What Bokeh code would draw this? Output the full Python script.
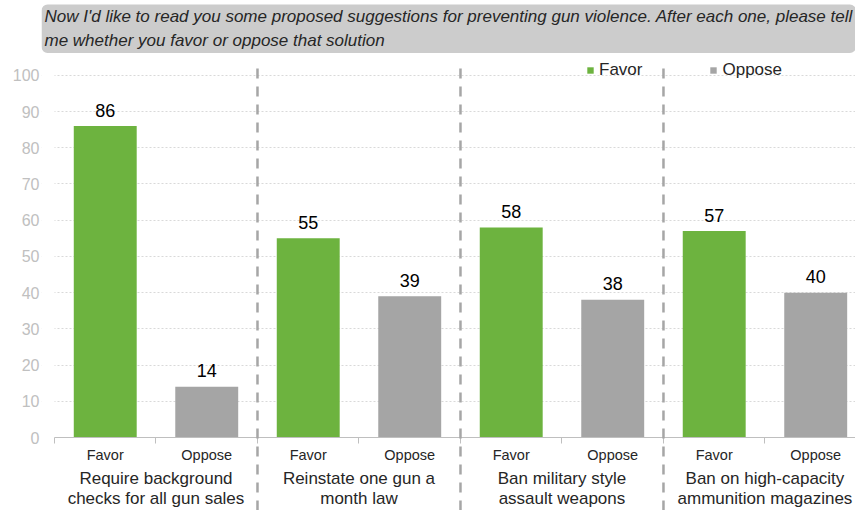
from bokeh.plotting import figure
from bokeh.models import Range1d, FixedTicker, LinearAxis, Label, Legend, LegendItem, ColumnDataSource, BoxAnnotation
from bokeh.embed import file_html
from bokeh.resources import INLINE
from bokeh.core.properties import value

# ---- data ----
groups = [
    "Require background\nchecks for all gun sales",
    "Reinstate one gun a\nmonth law",
    "Ban military style\nassault weapons",
    "Ban on high-capacity\nammunition magazines",
]
responses = ["Favor", "Oppose"]
favor = [86, 55, 58, 57]
oppose = [14, 39, 38, 40]
y_ticks = list(range(0, 101, 10))
title_text = ("Now I'd like to read you some proposed suggestions for preventing gun violence. "
              "After each one, please tell\nme whether you favor or oppose that solution")

FONT = "Liberation Sans"
GREEN = "#6DB33F"
GRAY = "#A5A5A5"
TXT = "#262626"

ng = len(groups)
nr = len(responses)
fav_x = [nr * i + 0.5 for i in range(ng)]
opp_x = [nr * i + 1.5 for i in range(ng)]
centers = [nr * i + j + 0.5 for i in range(ng) for j in range(nr)]
bounds = list(range(ng * nr + 1))
group_centers = [nr * i + nr / 2 for i in range(ng)]
dividers = [nr * i for i in range(1, ng)]

p = figure(width=855, height=510, x_range=Range1d(-0.128, 7.892), y_range=Range1d(0, 120.66),
           output_backend="svg", toolbar_location=None, x_axis_type=None,
           min_border_left=41, min_border_right=0, min_border_top=0, min_border_bottom=72)
p.outline_line_color = None
p.background_fill_color = "white"

# y axis
p.yaxis.ticker = FixedTicker(ticks=y_ticks, minor_ticks=[])
p.yaxis.axis_line_color = None
p.yaxis.major_tick_line_color = None
p.yaxis.major_tick_out = 0
p.yaxis.major_tick_in = 0
p.yaxis.major_label_standoff = 2
p.yaxis.major_label_text_font = FONT
p.yaxis.major_label_text_font_size = "16px"
p.yaxis.major_label_text_color = "#C0C0C0"
p.ygrid.ticker = FixedTicker(ticks=y_ticks, minor_ticks=[])
p.ygrid.grid_line_color = "#D9D9D9"
p.ygrid.grid_line_dash = "2 2"
p.xgrid.grid_line_color = None
# keep the gridlines starting at the first category slot
p.add_layout(BoxAnnotation(left=p.x_range.start, right=0, bottom=0, top=101,
                           fill_color="white", fill_alpha=1, line_color=None, level="underlay"))

# x axes
ax1 = LinearAxis(ticker=FixedTicker(ticks=centers, minor_ticks=bounds), bounds=(0, 8),
                 major_label_overrides={c: responses[k % nr] for k, c in enumerate(centers)},
                 axis_line_color="#BFBFBF", major_tick_line_color=None, major_tick_out=0,
                 major_tick_in=0, minor_tick_in=0, minor_tick_out=6, minor_tick_line_color="#BFBFBF",
                 major_label_standoff=3, major_label_text_font=FONT,
                 major_label_text_font_size="14.5px", major_label_text_color=TXT)
ax2 = LinearAxis(ticker=FixedTicker(ticks=group_centers, minor_ticks=[]),
                 major_label_overrides={c: groups[k] for k, c in enumerate(group_centers)},
                 axis_line_color=None, major_tick_line_color=None, major_tick_out=0, major_tick_in=0,
                 minor_tick_line_color=None, major_label_standoff=3,
                 major_label_text_font=FONT, major_label_text_font_size="17px",
                 major_label_text_color=TXT, major_label_text_line_height=1.07)
p.add_layout(ax1, "below")
p.add_layout(ax2, "below")

# bars
src_f = ColumnDataSource(dict(x=fav_x, y=favor, t=[str(v) for v in favor]))
src_o = ColumnDataSource(dict(x=opp_x, y=oppose, t=[str(v) for v in oppose]))
rf = p.vbar(x="x", top="y", width=0.62, source=src_f, fill_color=GREEN, line_color=None)
ro = p.vbar(x="x", top="y", width=0.62, source=src_o, fill_color=GRAY, line_color=None)
for s in (src_f, src_o):
    p.text(x="x", y="y", text="t", source=s, text_align="center", text_baseline="alphabetic",
           y_offset=-16, text_font=value(FONT), text_font_size="18px", text_color="#000000")

# dividers
p.segment(x0=dividers, y0=[101.9] * len(dividers), x1=dividers, y1=[-25] * len(dividers),
          line_color="#A6A6A6", line_width=2.5, line_dash="10 8", level="overlay")

# legend
legend = Legend(items=[LegendItem(label=responses[0], renderers=[rf]),
                       LegendItem(label=responses[1], renderers=[ro])],
                orientation="horizontal", location=(545, 357), padding=0, margin=0,
                spacing=67, glyph_width=8, glyph_height=8, label_standoff=5,
                label_text_font=FONT, label_text_font_size="17px", label_text_color=TXT,
                background_fill_alpha=0, border_line_color=None, label_height=18)
p.add_layout(legend)

# title box
p.add_layout(Label(x=-0.128, y=119.56, text=title_text, text_align="left", text_baseline="top",
                   padding=3, border_radius=6, background_fill_color="#CCCCCC",
                   text_font=FONT, text_font_style="italic", text_font_size="17px",
                   text_color=TXT, text_line_height=1.24))

open("out.html", "w").write(file_html(p, INLINE))
